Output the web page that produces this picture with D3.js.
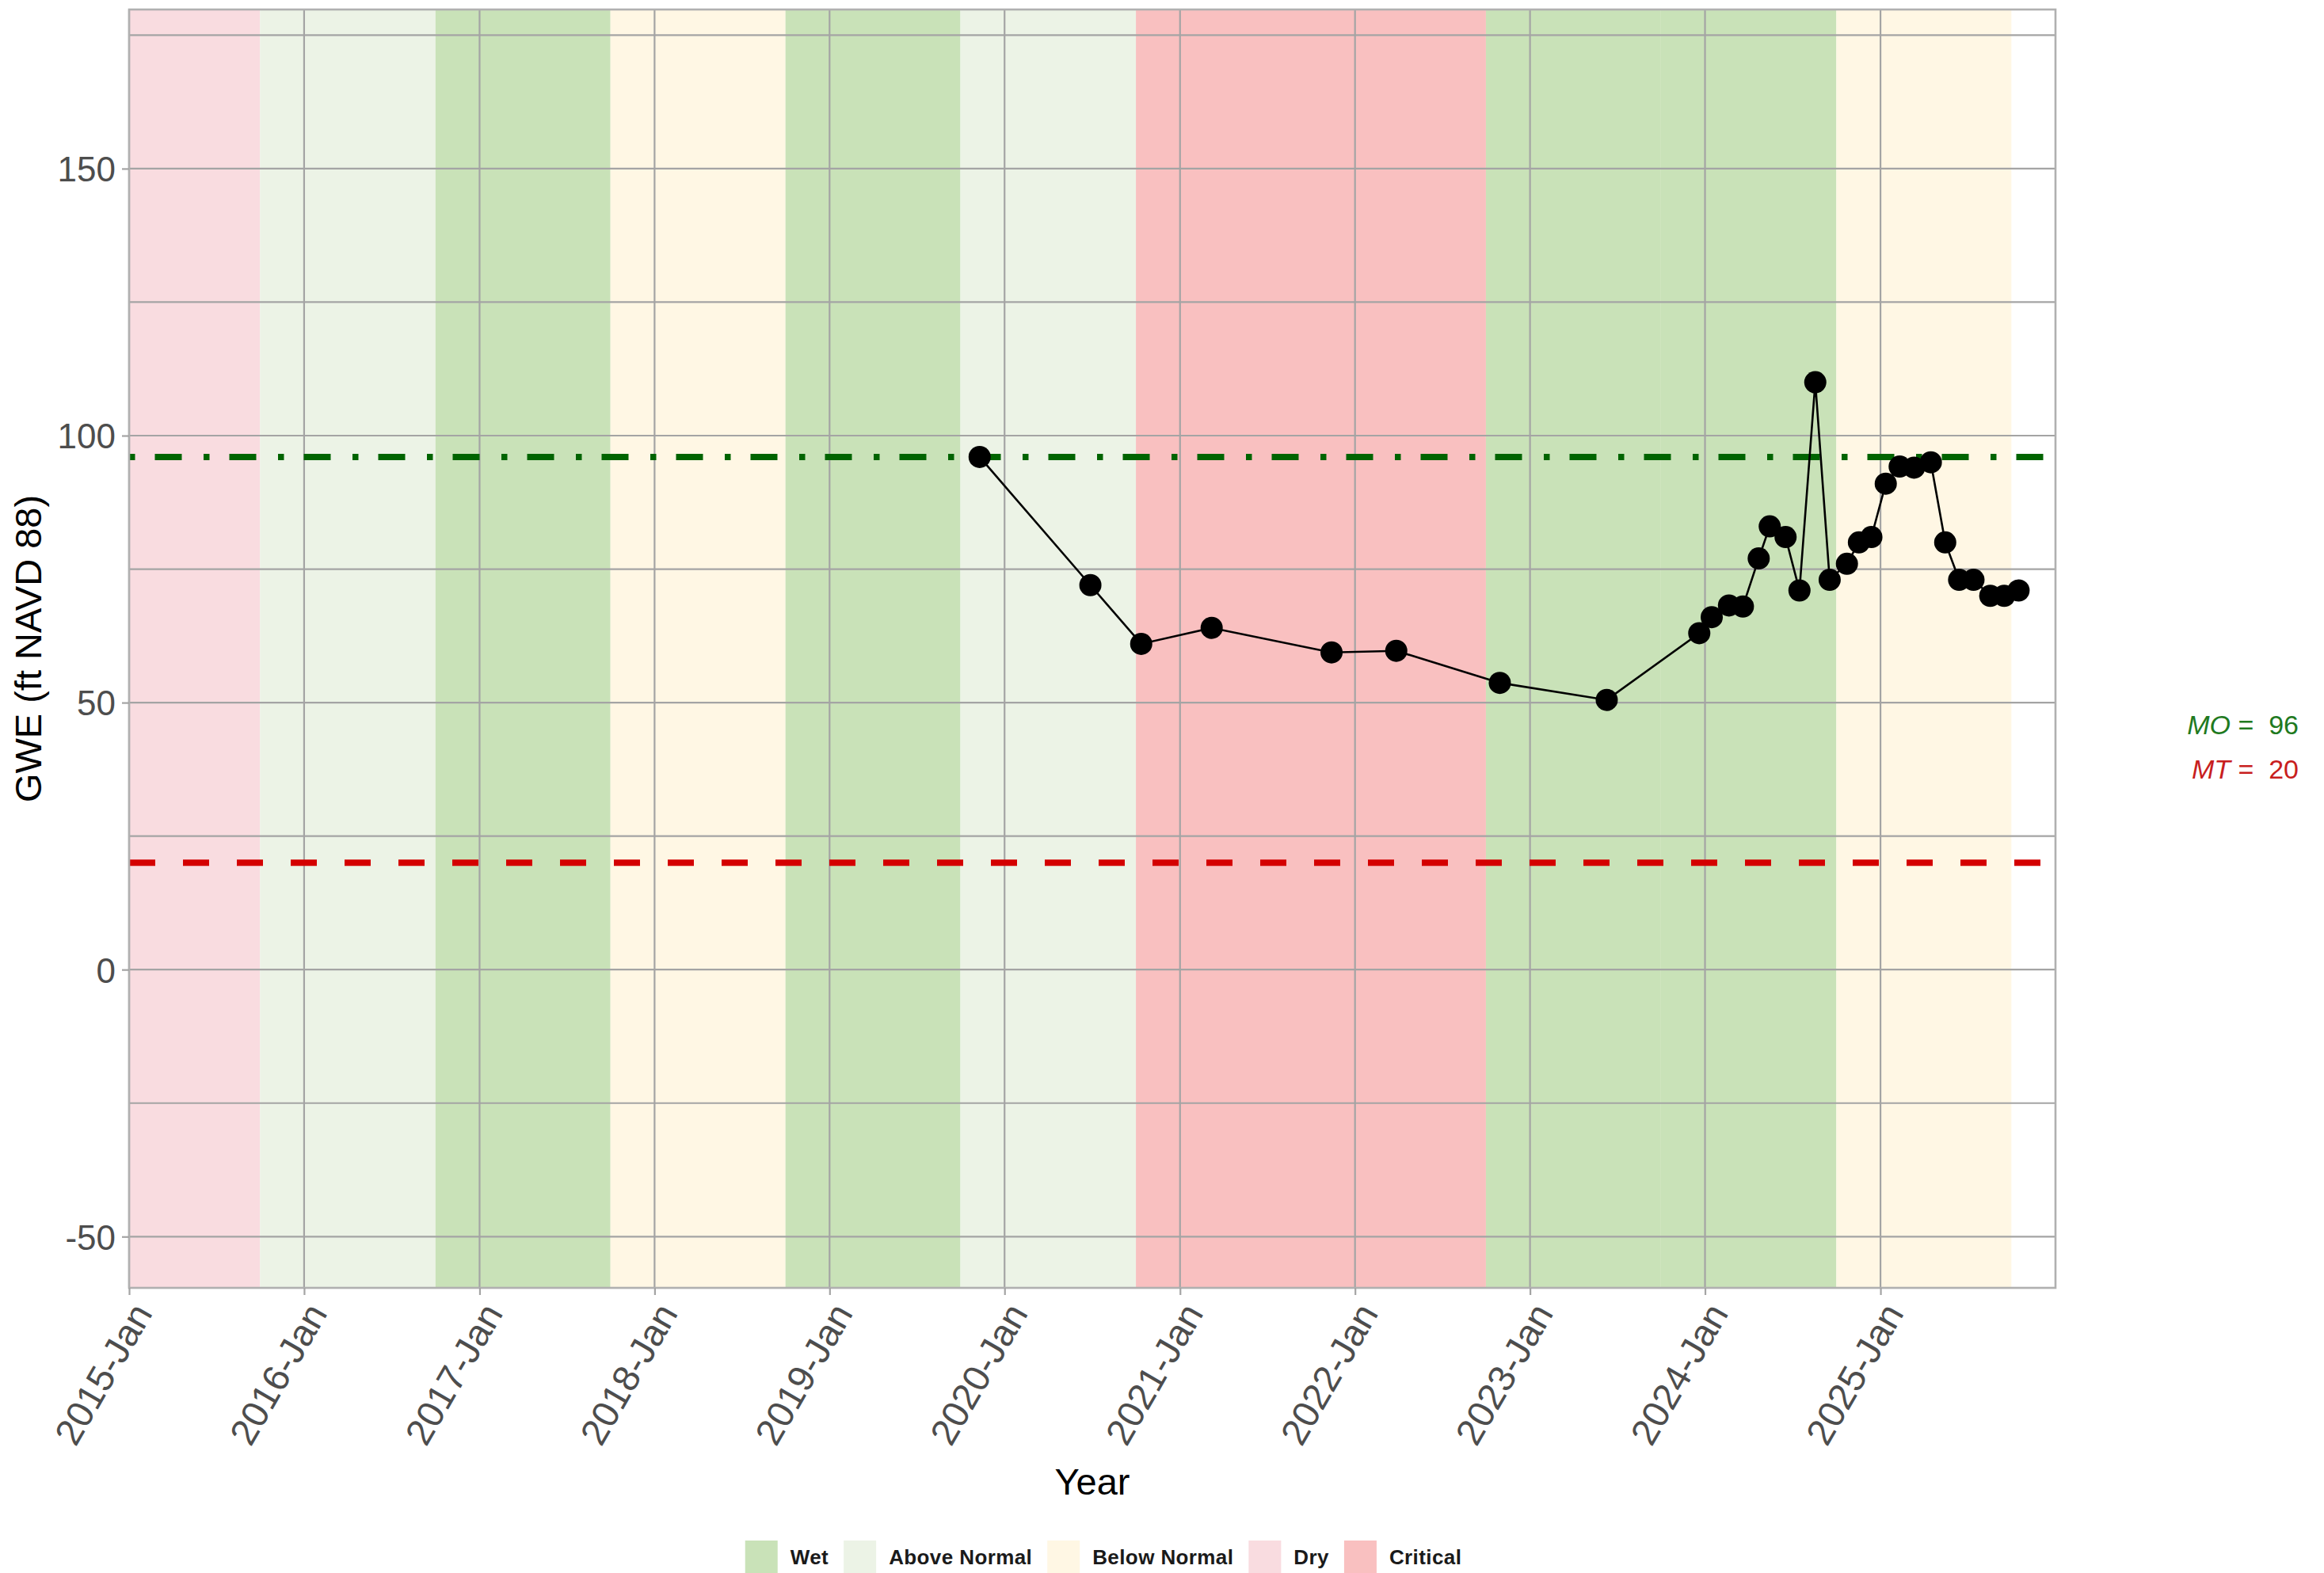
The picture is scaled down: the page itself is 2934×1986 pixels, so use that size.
<!DOCTYPE html>
<html>
<head>
<meta charset="utf-8">
<script src="https://cdn.jsdelivr.net/npm/d3@7"></script>
<style>
  body { margin: 0; background: #fff; }
  svg { display: block; font-family: "Liberation Sans", Arial, sans-serif; }
</style>
</head>
<body>
<svg id="chart" width="2934" height="1986"></svg>
<script>
// measurement dates and groundwater elevation (ft NAVD 88)
const obsDates = [
  '2019-11-10', '2020-06-28', '2020-10-12', '2021-03-08', '2021-11-13', '2022-03-28',
  '2022-10-30', '2023-06-10', '2023-12-20', '2024-01-15', '2024-02-20', '2024-03-20',
  '2024-04-22', '2024-05-15', '2024-06-17', '2024-07-16', '2024-08-18', '2024-09-17',
  '2024-10-23', '2024-11-17', '2024-12-13', '2025-01-12', '2025-02-10', '2025-03-12',
  '2025-04-16', '2025-05-16', '2025-06-14', '2025-07-14', '2025-08-18', '2025-09-16',
  '2025-10-16'
];
const gweValues = [
  96, 72, 61, 64, 59.4, 59.7,
  53.7, 50.5, 63, 66, 68.2, 68,
  77, 83, 81, 71, 110, 73,
  76, 80, 81, 91, 94.2, 94,
  95, 80, 73, 73, 70, 70,
  71
];

// water year types (water year N runs Oct 1 of N-1 to Sep 30 of N)
const waterYears = [2015, 2016, 2017, 2018, 2019, 2020, 2021, 2022, 2023, 2024, 2025];
const waterYearTypes = ['Dry', 'Above Normal', 'Wet', 'Below Normal', 'Wet', 'Above Normal',
  'Critical', 'Critical', 'Wet', 'Wet', 'Below Normal'];

const typeNames = ['Wet', 'Above Normal', 'Below Normal', 'Dry', 'Critical'];
const typeColors = ['#c9e2b8', '#ecf3e6', '#fff7e4', '#f9dce0', '#f9c0c0'];

const yTicks = [-50, 0, 50, 100, 150];
const yMinor = [-25, 25, 75, 125, 175];
const xTickYears = [2015, 2016, 2017, 2018, 2019, 2020, 2021, 2022, 2023, 2024, 2025];
const monthNames = ['Jan', 'Feb', 'Mar', 'Apr', 'May', 'Jun', 'Jul', 'Aug', 'Sep', 'Oct', 'Nov', 'Dec'];

const MO = 96;
const MT = 20;

const margin = { top: 12, right: 339, bottom: 360, left: 163 };
const svg = d3.select('#chart');
const fullW = +svg.attr('width'), fullH = +svg.attr('height');
const width = fullW - margin.left - margin.right,
      height = fullH - margin.top - margin.bottom;

const parseDate = d3.timeParse('%Y-%m-%d');
const data = obsDates.map((d, i) => ({ date: parseDate(d), gwe: gweValues[i] }));

const x = d3.scaleTime()
  .domain([new Date(2015, 0, 1), new Date(2026, 0, 1)])
  .range([0, width]);
const y = d3.scaleLinear()
  .domain([-59.6, 179.8])
  .range([height, 0]);
const color = d3.scaleOrdinal().domain(typeNames).range(typeColors);

svg.append('rect').attr('width', fullW).attr('height', fullH).attr('fill', '#fff');

const g = svg.append('g').attr('transform', 'translate(' + margin.left + ',' + margin.top + ')');

g.append('clipPath').attr('id', 'panel')
  .append('rect').attr('width', width).attr('height', height);

// water year bands
const bands = waterYears.map((wy, i) => ({
  start: new Date(wy - 1, 9, 1),
  end: new Date(wy, 9, 1),
  type: waterYearTypes[i]
}));
g.append('g').attr('clip-path', 'url(#panel)')
  .selectAll('rect')
  .data(bands)
  .enter().append('rect')
  .attr('x', d => Math.max(0, x(d.start)))
  .attr('width', d => x(d.end) - Math.max(0, x(d.start)))
  .attr('y', 0)
  .attr('height', height)
  .attr('fill', d => color(d.type));

// grid
const grid = g.append('g').attr('stroke', '#a4a4a4').attr('stroke-width', 2.2);
grid.selectAll('.hminor').data(yMinor).enter().append('line')
  .attr('x1', 0).attr('x2', width)
  .attr('y1', d => y(d)).attr('y2', d => y(d));
grid.selectAll('.hmajor').data(yTicks).enter().append('line')
  .attr('x1', 0).attr('x2', width)
  .attr('y1', d => y(d)).attr('y2', d => y(d));
grid.selectAll('.vmajor').data(xTickYears).enter().append('line')
  .attr('y1', 0).attr('y2', height)
  .attr('x1', d => x(new Date(d, 0, 1))).attr('x2', d => x(new Date(d, 0, 1)));

// MO / MT lines
g.append('line')
  .attr('x1', 0).attr('x2', width)
  .attr('y1', y(MO)).attr('y2', y(MO))
  .attr('stroke', '#006400').attr('stroke-width', 8)
  .attr('stroke-dasharray', '7.5,25,34,27.5');
g.append('line')
  .attr('x1', 0).attr('x2', width)
  .attr('y1', y(MT)).attr('y2', y(MT))
  .attr('stroke', '#d40000').attr('stroke-width', 8)
  .attr('stroke-dasharray', '33,35');

// data
const line = d3.line().x(d => x(d.date)).y(d => y(d.gwe));
g.append('path').datum(data)
  .attr('fill', 'none').attr('stroke', '#000').attr('stroke-width', 2.6)
  .attr('d', line);
g.selectAll('.pt').data(data).enter().append('circle')
  .attr('cx', d => x(d.date)).attr('cy', d => y(d.gwe))
  .attr('r', 14).attr('fill', '#000');

// panel border
g.append('rect').attr('width', width).attr('height', height)
  .attr('fill', 'none').attr('stroke', '#b0b0b0').attr('stroke-width', 2.6);

// axes
const yAxis = g.append('g')
  .call(d3.axisLeft(y).tickValues(yTicks).tickFormat(d => String(d)).tickSize(9).tickPadding(8));
yAxis.select('.domain').remove();
yAxis.selectAll('line').attr('stroke', '#a4a4a4').attr('stroke-width', 2.2);
yAxis.selectAll('text').attr('fill', '#4d4d4d').style('font-size', '44px')
  .attr('dy', '0.36em');

const xAxis = g.append('g')
  .attr('transform', 'translate(0,' + height + ')')
  .call(d3.axisBottom(x)
    .tickValues(xTickYears.map(yr => new Date(yr, 0, 1)))
    .tickFormat(d => d.getFullYear() + '-' + monthNames[d.getMonth()])
    .tickSize(9));
xAxis.select('.domain').remove();
xAxis.selectAll('line').attr('stroke', '#a4a4a4').attr('stroke-width', 2.2);
xAxis.selectAll('text')
  .attr('fill', '#4d4d4d').style('font-size', '47px')
  .style('text-anchor', 'end')
  .attr('x', 0).attr('y', 0).attr('dy', 0)
  .attr('transform', 'translate(30,32) rotate(-60)');

// axis titles
svg.append('text')
  .attr('x', margin.left + width / 2).attr('y', 1887)
  .attr('text-anchor', 'middle')
  .style('font-size', '47px').attr('fill', '#000')
  .text('Year');
svg.append('text')
  .attr('transform', 'translate(52,' + (margin.top + height / 2) + ') rotate(-90)')
  .attr('text-anchor', 'middle')
  .style('font-size', '47px').attr('fill', '#000')
  .text('GWE (ft NAVD 88)');

// MO / MT annotation
const note = svg.append('g').style('font-size', '34px').attr('text-anchor', 'end');
const moText = note.append('text').attr('x', 2902).attr('y', 927).attr('fill', '#1f7a1f');
moText.append('tspan').style('font-style', 'italic').text('MO');
moText.append('tspan').attr('xml:space', 'preserve').text(' =  ' + MO);
const mtText = note.append('text').attr('x', 2902).attr('y', 983).attr('fill', '#c81e1e');
mtText.append('tspan').style('font-style', 'italic').text('MT');
mtText.append('tspan').attr('xml:space', 'preserve').text(' =  ' + MT);

// legend
const legend = svg.append('g').style('font-size', '26px').style('font-weight', 'bold');
const boxSize = 41, boxGap = 16, itemGap = 19;
const items = legend.selectAll('g').data(typeNames).enter().append('g');
items.append('rect')
  .attr('width', boxSize).attr('height', boxSize)
  .attr('y', 1945)
  .attr('fill', d => color(d));
items.append('text')
  .attr('x', boxSize + boxGap).attr('y', 1975)
  .attr('fill', '#1a1a1a')
  .style('letter-spacing', '0.4px')
  .text(d => d);
let offset = 0;
const widths = [];
items.each(function () {
  const w = boxSize + boxGap + d3.select(this).select('text').node().getComputedTextLength();
  widths.push(w);
});
const totalW = d3.sum(widths) + itemGap * (widths.length - 1);
offset = 1393 - totalW / 2;
items.attr('transform', (d, i) => {
  const t = 'translate(' + offset + ',0)';
  offset += widths[i] + itemGap;
  return t;
});
</script>
</body>
</html>
